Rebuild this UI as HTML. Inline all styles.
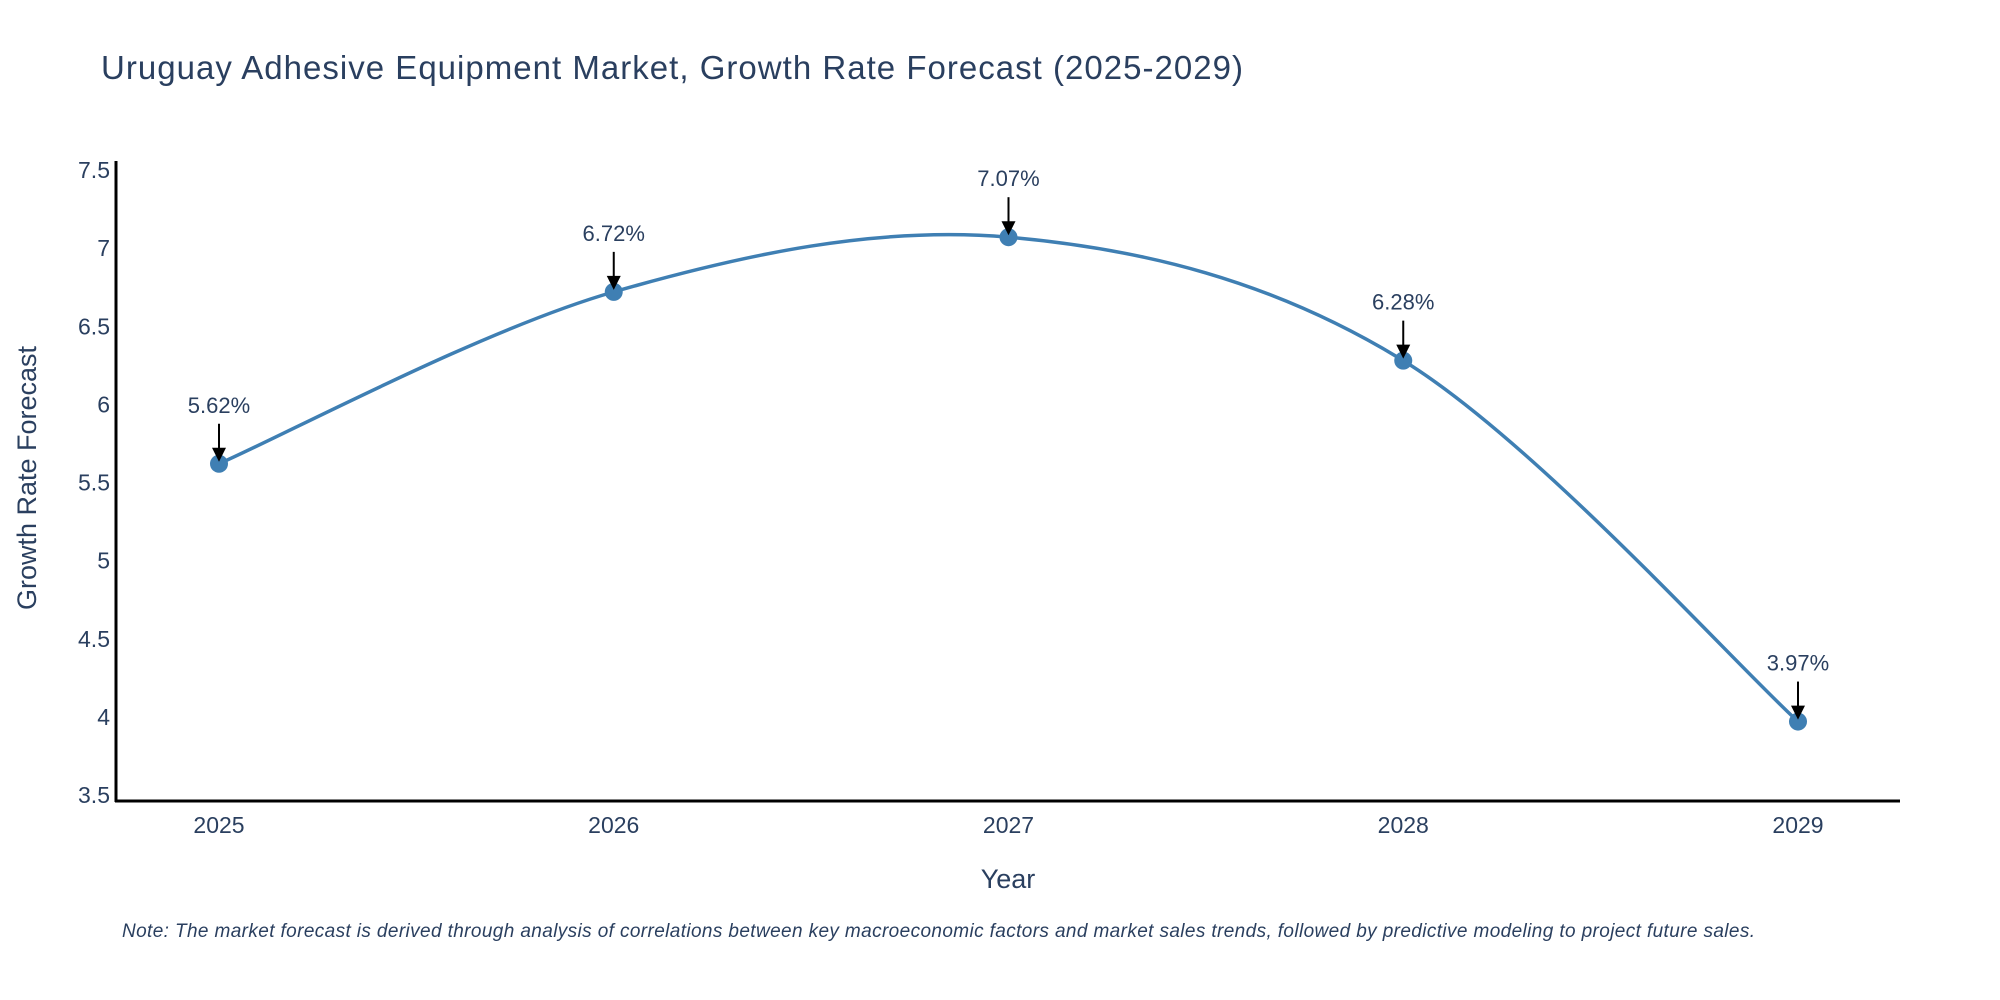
<!DOCTYPE html>
<html><head><meta charset="utf-8"><style>
html,body{margin:0;padding:0;background:#fff}
svg{display:block;font-family:"Liberation Sans",sans-serif}
</style></head><body>
<svg id="chart" width="2000" height="1000" viewBox="0 0 2000 1000">
<text x="101" y="79" font-size="33" fill="#2a3f5f" textLength="1142">Uruguay Adhesive Equipment Market, Growth Rate Forecast (2025-2029)</text>
<g id="yticks"></g>
<g id="xticks"></g>
<line x1="116" y1="161" x2="116" y2="802" stroke="#000" stroke-width="3"/>
<line x1="115" y1="801" x2="1900" y2="801" stroke="#000" stroke-width="3"/>
<text x="1008" y="888" font-size="27" fill="#2a3f5f" text-anchor="middle">Year</text>
<text transform="translate(36,478) rotate(-90)" font-size="27" fill="#2a3f5f" text-anchor="middle">Growth Rate Forecast</text>
<g id="series"></g>
<g id="annots"></g>
<text x="122" y="937" font-size="19" font-style="italic" fill="#2a3f5f" textLength="1633">Note: The market forecast is derived through analysis of correlations between key macroeconomic factors and market sales trends, followed by predictive modeling to project future sales.</text>
</svg>
<script>
const years = [2025, 2026, 2027, 2028, 2029];
const growth = [5.62, 6.72, 7.07, 6.28, 3.97];
const yTicks = [3.5, 4, 4.5, 5, 5.5, 6, 6.5, 7, 7.5];
const yTickLabels = ["3.5", "4", "4.5", "5", "5.5", "6", "6.5", "7", "7.5"];

const NS = "http://www.w3.org/2000/svg";
function X(yr){ return 219 + (yr - 2025) * (1798 - 219) / 4; }
function Y(v){ return 170 + (7.5 - v) * 156.25; }
function mk(tag, attrs, parent){
  const e = document.createElementNS(NS, tag);
  for (const k in attrs) e.setAttribute(k, attrs[k]);
  parent.appendChild(e); return e;
}
const yt = document.getElementById('yticks');
yTicks.forEach((v, i) => {
  const t = mk('text', {x: 110, y: Y(v) + 8, 'font-size': 23, fill: '#2a3f5f', 'text-anchor': 'end'}, yt);
  
  
  t.textContent = yTickLabels[i];
});
const xt = document.getElementById('xticks');
years.forEach(yr => {
  const t = mk('text', {x: X(yr), y: 833, 'font-size': 23, fill: '#2a3f5f', 'text-anchor': 'middle'}, xt);
  
  
  t.textContent = String(yr);
});
// spline path (Catmull-Rom to Bezier)
const pts = years.map((yr, i) => [X(yr), Y(growth[i])]);
let d = `M${pts[0][0]},${pts[0][1]}`;
for (let i = 0; i < pts.length - 1; i++) {
  const p0 = pts[Math.max(0, i - 1)], p1 = pts[i], p2 = pts[i + 1], p3 = pts[Math.min(pts.length - 1, i + 2)];
  const c1 = [p1[0] + (p2[0] - p0[0]) / 6, p1[1] + (p2[1] - p0[1]) / 6];
  const c2 = [p2[0] - (p3[0] - p1[0]) / 6, p2[1] - (p3[1] - p1[1]) / 6];
  d += ` C${c1[0]},${c1[1]} ${c2[0]},${c2[1]} ${p2[0]},${p2[1]}`;
}
const s = document.getElementById('series');
const line = mk('path', {d: d, fill: 'none', stroke: '#3f7fb3', 'stroke-width': 3.5}, s);


pts.forEach(p => {
  const c = mk('circle', {cx: p[0], cy: p[1], r: 9, fill: '#3f7fb3'}, s);
  
  
});
const an = document.getElementById('annots');
pts.forEach((p, i) => {
  const t = mk('text', {x: p[0], y: p[1] - 51, 'font-size': 22, fill: '#2a3f5f', 'text-anchor': 'middle'}, an);
  
  
  t.textContent = growth[i].toFixed(2) + '%';
  const l = mk('line', {x1: p[0], y1: p[1] - 40, x2: p[0], y2: p[1] - 12, stroke: '#000', 'stroke-width': 2}, an);
  
  
  const h = mk('polygon', {points: `${p[0]-7},${p[1]-16} ${p[0]+7},${p[1]-16} ${p[0]},${p[1]-2}`, fill: '#000'}, an);
  
  
});
</script>
</body></html>
